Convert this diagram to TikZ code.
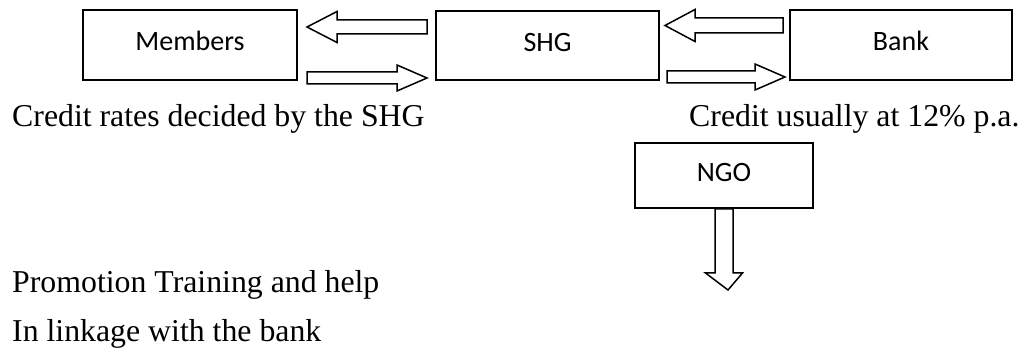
\documentclass[tikz,border=0pt]{standalone}
\usepackage{fontspec}
\setmainfont{Liberation Serif}
\newfontfamily\boxfont{Carlito}
\usetikzlibrary{calc}
\tikzset{
  box/.style={draw=black, line width=1.6pt, rectangle, inner sep=0pt,
    font=\boxfont\fontsize{28}{32}\selectfont, text height=18pt, text depth=6pt},
  blockline/.style={draw=black, line width=1.5pt, fill=white, line join=miter},
  caption/.style={inner sep=0pt, font=\fontsize{31.8}{38}\selectfont}
}
% horizontal block arrows: #1 tail, #2 tip, #3 shaft half, #4 head half
\newcommand{\blockR}[4]{\draw[blockline] let \p1=(#1), \p2=(#2) in
  (\x1,\y1+#3) -- (\x2-30pt,\y1+#3) -- (\x2-30pt,\y1+#4) -- (\x2,\y2)
  -- (\x2-30pt,\y1-#4) -- (\x2-30pt,\y1-#3) -- (\x1,\y1-#3) -- cycle;}
\newcommand{\blockL}[4]{\draw[blockline] let \p1=(#1), \p2=(#2) in
  (\x1,\y1+#3) -- (\x2+30pt,\y1+#3) -- (\x2+30pt,\y1+#4) -- (\x2,\y2)
  -- (\x2+30pt,\y1-#4) -- (\x2+30pt,\y1-#3) -- (\x1,\y1-#3) -- cycle;}
\newcommand{\blockD}[4]{\draw[blockline] let \p1=(#1), \p2=(#2) in
  (\x1-#3,\y1) -- (\x1-#3,\y2+17pt) -- (\x1-#4,\y2+17pt) -- (\x2,\y2)
  -- (\x1+#4,\y2+17pt) -- (\x1+#3,\y2+17pt) -- (\x1+#3,\y1) -- cycle;}
\begin{document}
\begin{tikzpicture}[x=1pt,y=-1pt]
\useasboundingbox (0,0) rectangle (1021,352);
% boxes
\node[box, minimum width=214pt, minimum height=70pt] (members) at (190,45) {Members};
\node[box, minimum width=223pt, minimum height=69pt] (shg) at (547.5,45.5) {SHG};
\node[box, minimum width=222pt, minimum height=70pt] (bank) at (901,45) {Bank};
\node[box, minimum width=178pt, minimum height=65pt] (ngo) at (724,175.5) {NGO};
% arrow end points
\coordinate (a1tail) at (427,27);
\coordinate (a1tip) at (307,27);
\coordinate (a2tail) at (307,78);
\coordinate (a2tip) at (427,78);
\coordinate (a3tail) at (783,25.5);
\coordinate (a3tip) at (665,25.5);
\coordinate (a4tail) at (667,77);
\coordinate (a4tip) at (785,77);
\coordinate (a5tip) at (728,290);
% block arrows
\blockL{a1tail}{a1tip}{7pt}{15.5pt}
\blockR{a2tail}{a2tip}{6pt}{13pt}
\blockL{a3tail}{a3tip}{7.5pt}{16pt}
\blockR{a4tail}{a4tip}{6pt}{13pt}
\blockD{ngo.south}{a5tip}{9pt}{18.5pt}
% captions
\node[caption, anchor=base west] (c1) at (12,127) {Credit rates decided by the SHG};
\node[caption, anchor=base west] (c2) at (689,127) {Credit usually at 12\%\ p.a.};
\node[caption, anchor=base west] (c3) at (12,293) {Promotion Training and help};
\node[caption, anchor=base west] (c4) at (12,342) {In linkage with the bank};
\end{tikzpicture}
\end{document}
